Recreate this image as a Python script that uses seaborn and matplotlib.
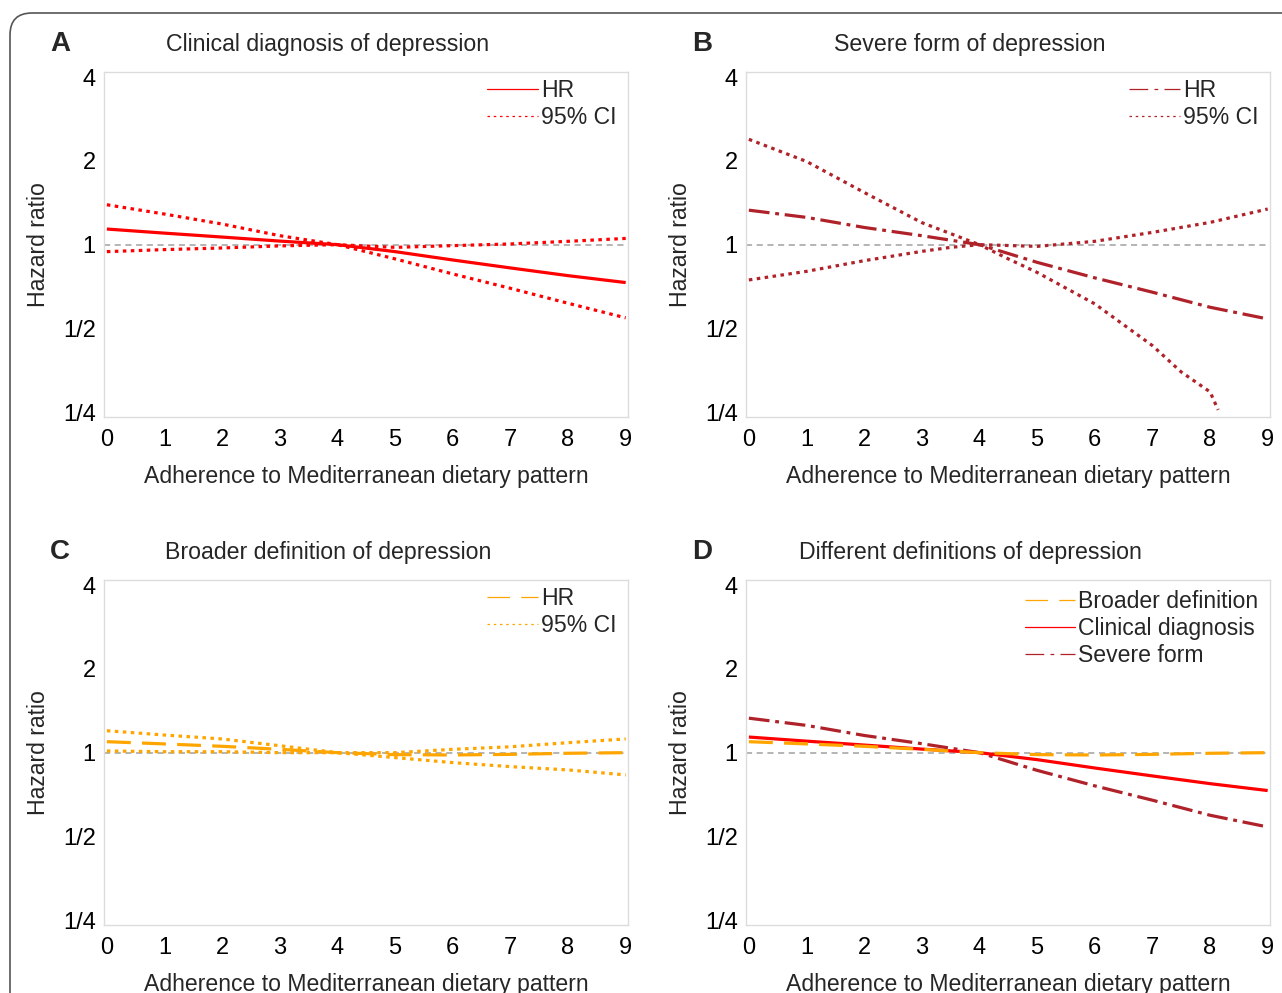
import matplotlib
matplotlib.use("Agg")
import matplotlib.pyplot as plt
from matplotlib.lines import Line2D
from matplotlib.patches import FancyBboxPatch
from matplotlib.transforms import IdentityTransform
import pandas as pd
import seaborn as sns

# adherence score
x = [0, 1, 2, 3, 4, 5, 6, 7, 8, 9]

# clinical diagnosis
clin_hr = [1.138, 1.10, 1.065, 1.03, 1.0, 0.944, 0.881, 0.825, 0.774, 0.731]
clin_lo = [0.944, 0.96, 0.973, 0.99, 1.0, 0.889, 0.785, 0.697, 0.616, 0.546]
clin_hi = [1.391, 1.288, 1.186, 1.077, 1.0, 0.978, 0.992, 1.006, 1.028, 1.053]

# severe form (lower CI runs out of the axis past 8)
sev_hr = [1.33, 1.253, 1.153, 1.077, 1.0, 0.864, 0.76, 0.675, 0.596, 0.541]
sev_hi = [2.39, 1.99, 1.54, 1.20, 1.0, 0.986, 1.028, 1.107, 1.202, 1.343]
sev_lo_x = [0, 1, 2, 3, 3.5, 4, 4.5, 5, 6, 7, 7.5, 8, 8.14]
sev_lo = [0.747, 0.802, 0.876, 0.946, 0.978, 1.0, 0.889, 0.795, 0.613, 0.434, 0.349, 0.296, 0.255]

# broader definition
brd_hr = [1.095, 1.075, 1.054, 1.028, 1.0, 0.984, 0.981, 0.986, 0.995, 1.0]
brd_lo = [1.014, 1.008, 1.008, 1.0, 1.0, 0.96, 0.921, 0.891, 0.867, 0.832]
brd_hi = [1.199, 1.157, 1.12, 1.059, 1.0, 1.0, 1.028, 1.05, 1.086, 1.12]

titles = ["Clinical diagnosis of depression", "Severe form of depression",
          "Broader definition of depression", "Different definitions of depression"]
letters = ["A", "B", "C", "D"]
ytick_vals = [0.25, 0.5, 1, 2, 4]
ytick_labels = ["1/4", "1/2", "1", "2", "4"]

RED = "#ff0000"
DARKRED = "#b0222a"
ORANGE = "#ffa500"
LW = 2.3
DOT = (1.1, 1.4)
DASHDOT = (6.5, 1.8, 1.2, 1.8)
LONGDASH = (7.5, 3.5)

sns.set_theme(style="white")
plt.rcParams["font.family"] = ["Liberation Sans", "DejaVu Sans"]

W, H = 1282, 993
fig = plt.figure(figsize=(W / 100, H / 100), dpi=100)
fig.patch.set_facecolor("white")

# rounded outer frame (cut by the right and bottom edges)
frame = FancyBboxPatch((10, -60), 1400, H - 13 + 60, boxstyle="round,pad=0,rounding_size=22",
                       transform=IdentityTransform(), facecolor="none", edgecolor="#555555", lw=1.2)
fig.patches.append(frame)

boxes = [(104, 72), (746, 72), (104, 580), (746, 580)]
aw, ah = 524, 345


def line(ax, xs, ys, color, dashes=None):
    df = pd.DataFrame({"x": xs, "y": ys})
    sns.lineplot(data=df, x="x", y="y", ax=ax, color=color, lw=LW, estimator=None, sort=False)
    ln = ax.lines[-1]
    if dashes is not None:
        ln.set_dashes(dashes)
    ln.set_dash_capstyle("butt")
    ln.set_solid_capstyle("butt")


axes = []
for i, (l, t) in enumerate(boxes):
    ax = fig.add_axes([l / W, 1 - (t + ah) / H, aw / W, ah / H])
    ax.set_yscale("log", base=2)
    ax.set_ylim(2 ** -2.056, 2 ** 2.06)
    ax.set_xlim(-0.05, 9.04)
    ax.axhline(1, color="#a0a0a0", lw=1.1, dashes=(4, 3), zorder=1)
    axes.append(ax)

# A
line(axes[0], x, clin_hi, RED, DOT)
line(axes[0], x, clin_lo, RED, DOT)
line(axes[0], x, clin_hr, RED)
# B
line(axes[1], x, sev_hi, DARKRED, DOT)
line(axes[1], sev_lo_x, sev_lo, DARKRED, DOT)
line(axes[1], x, sev_hr, DARKRED, DASHDOT)
# C
line(axes[2], x, brd_hi, ORANGE, DOT)
line(axes[2], x, brd_lo, ORANGE, DOT)
line(axes[2], x, brd_hr, ORANGE, LONGDASH)
# D
line(axes[3], x, sev_hr, DARKRED, DASHDOT)
line(axes[3], x, clin_hr, RED)
line(axes[3], x, brd_hr, ORANGE, LONGDASH)

LEG_DD = (0, (15, 5, 3, 5))
LEG_LD = (0, (18, 9))
LEG_DOT = (0, (2, 3))
leg_specs = [
    [("HR", RED, "-"), ("95% CI", RED, LEG_DOT)],
    [("HR", DARKRED, LEG_DD), ("95% CI", DARKRED, LEG_DOT)],
    [("HR", ORANGE, LEG_LD), ("95% CI", ORANGE, LEG_DOT)],
    [("Broader definition", ORANGE, LEG_LD), ("Clinical diagnosis", RED, "-"),
     ("Severe form", DARKRED, LEG_DD)],
]
leg_top = [1.006, 1.006, 1.006, 0.998]

for i, ax in enumerate(axes):
    ax.set_yticks(ytick_vals)
    ax.set_yticklabels(ytick_labels)
    ax.minorticks_off()
    ax.set_xticks(x)
    ax.tick_params(axis="both", labelsize=17, colors="#d0d0d0", labelcolor="black",
                   length=4, width=1, direction="out")
    ax.tick_params(axis="x", pad=4.5)
    ax.tick_params(axis="y", pad=2)
    for s in ax.spines.values():
        s.set_color("#dcdcdc")
        s.set_linewidth(1)
    ax.set_xlabel("Adherence to Mediterranean dietary pattern", fontsize=16.6, labelpad=10)
    ax.set_ylabel("Hazard ratio", fontsize=16.6, labelpad=9)
    handles = [Line2D([0], [0], color=c, lw=0.9, ls=ls) for _, c, ls in leg_specs[i]]
    labels = [n for n, _, _ in leg_specs[i]]
    ax.legend(handles, labels, loc="upper right", frameon=False, fontsize=16.6,
              handlelength=2.2, handletextpad=0.12, labelspacing=0.18,
              borderaxespad=0.0, bbox_to_anchor=(0.995, leg_top[i]))

    l, t = boxes[i]
    fig.text((l - 38 + aw / 2) / W, 1 - (t - 28) / H, titles[i], fontsize=16.7,
             ha="center", va="center")
    fig.text((l - 44) / W, 1 - (t - 28) / H, letters[i], fontsize=20, fontweight="bold",
             ha="center", va="center")

fig.savefig("out.png", dpi=100, facecolor="white")
